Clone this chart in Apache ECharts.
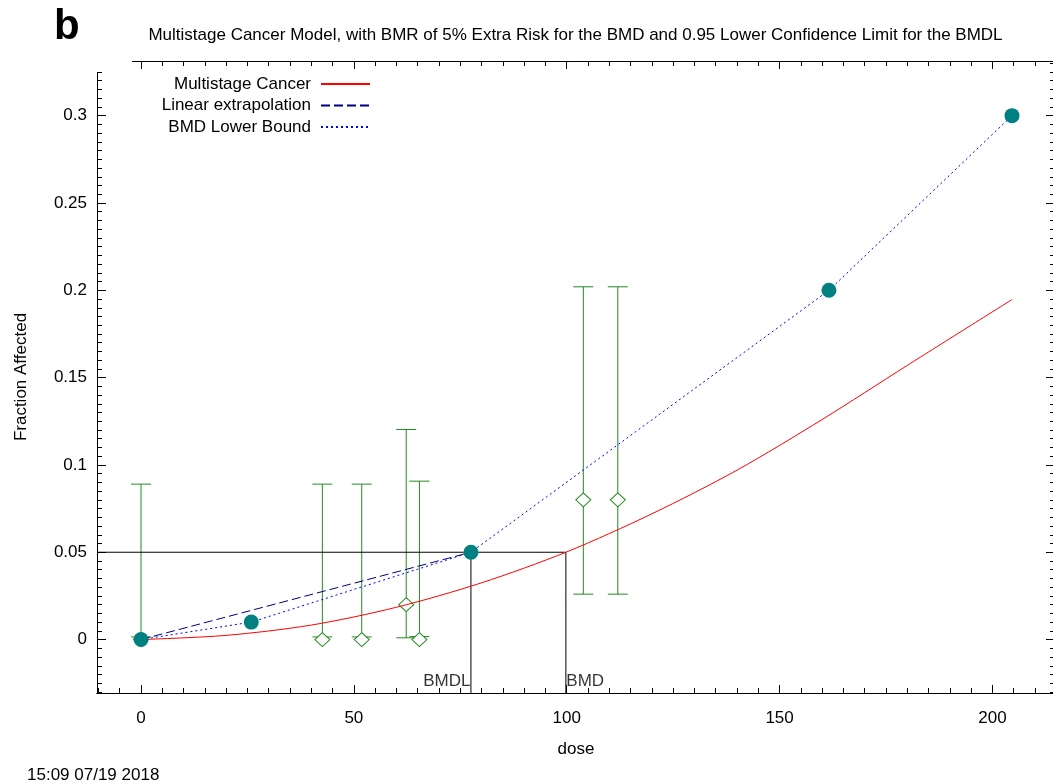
<!DOCTYPE html>
<html>
<head>
<meta charset="utf-8">
<script src="https://cdn.jsdelivr.net/npm/echarts@6/dist/echarts.min.js"></script>
<style>
html,body{margin:0;padding:0;background:#fff;}
#chart{width:1053px;height:784px;}
</style>
</head>
<body>
<div id="chart"></div>
<script>
// ---- data ----
const obsDose   = [0, 42.6, 51.85, 62.3, 65.4, 103.9, 112.0];
const obsFrac   = [0, 0, 0, 0.02, 0, 0.08, 0.08];
const obsLow    = [0.0015, 0.0015, 0.0015, 0.001, 0.0017, 0.026, 0.026];
const obsHigh   = [0.089, 0.089, 0.089, 0.1203, 0.0907, 0.202, 0.202];

const modelDose = [0, 20, 40, 60, 80, 100, 120, 140, 160, 180, 204.6];
const modelFrac = [0, 0.0024, 0.0083, 0.0185, 0.0325, 0.0502, 0.072, 0.097, 0.126, 0.157, 0.1947];

const lowerDose = [0, 25.9, 77.5, 161.6, 204.6];
const lowerFrac = [0, 0.01, 0.05, 0.2, 0.3];

const linDose = [0, 77.5];
const linFrac = [0, 0.05];

const BMR = 0.05;
const BMD = 99.8;
const BMDL = 77.5;

const xTickLabels = [0, 50, 100, 150, 200];
const yTickLabels = [0, 0.05, 0.1, 0.15, 0.2, 0.25, 0.3];

const XMIN = -10.34, XMAX = 214.7;
const YMIN = -0.0306, YMAX = 0.3313;

// minor tick positions
const xMinor = [];
for (let k = -2; k <= 42; k++) xMinor.push(k * 5);
const yMinor = [];
for (let k = -6; k <= 66; k++) yMinor.push(Math.round(k * 5) / 1000);

const FONT = '"Liberation Sans", Arial, sans-serif';
const FS = 17;
const GREEN = '#228b22';

const zip = (a, b) => a.map((v, i) => [v, b[i]]);

function xAxisDef(pos, values, len, labels) {
  return {
    type: 'value', position: pos, min: XMIN, max: XMAX,
    axisLine: { show: true, onZero: false, lineStyle: { color: '#000', width: 1 } },
    axisTick: { show: true, inside: true, length: len, customValues: values, lineStyle: { color: '#000' } },
    axisLabel: labels ? { show: true, customValues: values, margin: 17, color: '#000', fontSize: FS, fontFamily: FONT } : { show: false },
    splitLine: { show: false }
  };
}
function yAxisDef(pos, values, len, labels) {
  return {
    type: 'value', position: pos, min: YMIN, max: YMAX,
    axisLine: { show: true, onZero: false, lineStyle: { color: '#000', width: 1 } },
    axisTick: { show: true, inside: true, length: len, customValues: values, lineStyle: { color: '#000' } },
    axisLabel: labels ? { show: true, customValues: values, margin: 10, color: '#000', fontSize: FS, fontFamily: FONT } : { show: false },
    splitLine: { show: false }
  };
}

const xAxes = [
  Object.assign(xAxisDef('bottom', xTickLabels, 8, true), {
    name: 'dose', nameLocation: 'middle', nameGap: 48,
    nameTextStyle: { color: '#000', fontSize: FS, fontFamily: FONT }
  }),
  xAxisDef('bottom', xMinor, 5, false),
  xAxisDef('top', xTickLabels, 8, false),
  xAxisDef('top', xMinor, 5, false)
];
const yAxes = [
  Object.assign(yAxisDef('left', yTickLabels, 9, true), {
    name: 'Fraction Affected', nameLocation: 'middle', nameGap: 67, nameRotate: 90,
    nameTextStyle: { color: '#000', fontSize: FS, fontFamily: FONT }
  }),
  yAxisDef('left', yMinor, 5, false),
  yAxisDef('right', yTickLabels, 9, false),
  yAxisDef('right', yMinor, 5, false)
];

const errData = obsDose.map((d, i) => [d, obsLow[i], obsHigh[i]]);

const option = {
  animation: false,
  backgroundColor: '#fff',
  textStyle: { fontFamily: FONT },
  title: {
    text: 'Multistage Cancer Model, with BMR of 5% Extra Risk for the BMD and 0.95 Lower Confidence Limit for the BMDL',
    left: 570.5, textAlign: 'center', top: 22,
    textStyle: { fontSize: FS, fontWeight: 'normal', color: '#000', fontFamily: FONT }
  },
  grid: { left: 97, right: -2, top: 61, bottom: 91, containLabel: false, outerBoundsMode: 'none' },
  xAxis: xAxes,
  yAxis: yAxes,
  legend: {
    orient: 'vertical', right: 682, top: 75.5, padding: 0,
    align: 'right', itemWidth: 49, itemHeight: 14, itemGap: 4.5,
    backgroundColor: 'transparent',
    itemStyle: { opacity: 0 },
    textStyle: { fontSize: FS, lineHeight: 17, color: '#000', fontFamily: FONT, padding: [0, 5, 0, 0] },
    data: ['Multistage Cancer', 'Linear extrapolation', 'BMD Lower Bound']
  },
  graphic: [
    { type: 'rect', left: 94, top: 57, shape: { width: 38, height: 15 }, style: { fill: '#fff' }, z: 100 },
    { type: 'text', left: 54, top: 6, style: { text: 'b', font: 'bold 42px ' + FONT, fill: '#000' }, z: 100 },
    { type: 'text', left: 27, top: 767, style: { text: '15:09 07/19 2018', font: FS + 'px ' + FONT, fill: '#000' } }
  ],
  series: [
    {
      name: 'err', type: 'custom', xAxisIndex: 0, yAxisIndex: 0,
      data: errData, encode: { x: 0, y: [1, 2] }, z: 2,
      renderItem: function (params, api) {
        const x = api.value(0), lo = api.value(1), hi = api.value(2);
        const pL = api.coord([x, lo]), pH = api.coord([x, hi]);
        const hw = 10;
        const st = { stroke: GREEN, lineWidth: 1 };
        return {
          type: 'group', children: [
            { type: 'line', shape: { x1: pL[0], y1: pL[1], x2: pH[0], y2: pH[1] }, style: st },
            { type: 'line', shape: { x1: pL[0] - hw, y1: pL[1], x2: pL[0] + hw, y2: pL[1] }, style: st },
            { type: 'line', shape: { x1: pH[0] - hw, y1: pH[1], x2: pH[0] + hw, y2: pH[1] }, style: st }
          ]
        };
      }
    },
    {
      name: 'obs', type: 'scatter', xAxisIndex: 0, yAxisIndex: 0, z: 3,
      symbol: 'diamond', symbolSize: [15, 14],
      itemStyle: { color: '#fff', borderColor: GREEN, borderWidth: 1, opacity: 1 },
      data: zip(obsDose, obsFrac)
    },
    {
      name: 'refH', type: 'line', xAxisIndex: 0, yAxisIndex: 0, z: 4, symbol: 'none',
      lineStyle: { color: '#000', width: 1 },
      data: [[XMIN, BMR], [BMD, BMR], [BMD, YMIN]]
    },
    {
      name: 'refV', type: 'line', xAxisIndex: 0, yAxisIndex: 0, z: 4, symbol: 'none',
      lineStyle: { color: '#000', width: 1 },
      data: [[BMDL, YMIN], [BMDL, BMR]]
    },
    {
      name: 'labels', type: 'scatter', xAxisIndex: 0, yAxisIndex: 0, z: 5,
      symbolSize: 1, itemStyle: { color: 'transparent' },
      data: [
        { value: [BMDL, YMIN], label: { show: true, formatter: 'BMDL', position: [0, -3], align: 'right', verticalAlign: 'bottom', fontSize: FS, color: '#000', fontFamily: FONT } },
        { value: [BMD, YMIN], label: { show: true, formatter: 'BMD', position: [1, -3], align: 'left', verticalAlign: 'bottom', fontSize: FS, color: '#000', fontFamily: FONT } }
      ]
    },
    {
      name: 'Multistage Cancer', type: 'line', xAxisIndex: 0, yAxisIndex: 0, z: 6,
      symbol: 'none', smooth: 0.3, color: '#ff0000',
      lineStyle: { color: '#ff0000', width: 1 },
      data: zip(modelDose, modelFrac)
    },
    {
      name: 'Linear extrapolation', type: 'line', xAxisIndex: 0, yAxisIndex: 0, z: 6,
      symbol: 'none', color: '#000080',
      lineStyle: { color: '#000080', width: 1, type: [9, 4] },
      data: zip(linDose, linFrac)
    },
    {
      name: 'BMD Lower Bound', type: 'line', xAxisIndex: 0, yAxisIndex: 0, z: 6,
      symbol: 'none', color: '#0000ff',
      lineStyle: { color: '#0000ff', width: 1, type: [2, 3] },
      data: zip(lowerDose, lowerFrac)
    },
    {
      name: 'points', type: 'scatter', xAxisIndex: 0, yAxisIndex: 0, z: 7,
      symbol: 'circle', symbolSize: 15,
      itemStyle: { color: '#008080', opacity: 1 },
      data: zip(lowerDose, lowerFrac)
    }
  ]
};

const chart = echarts.init(document.getElementById('chart'), null, { renderer: 'canvas' });
chart.setOption(option);
</script>
</body>
</html>
